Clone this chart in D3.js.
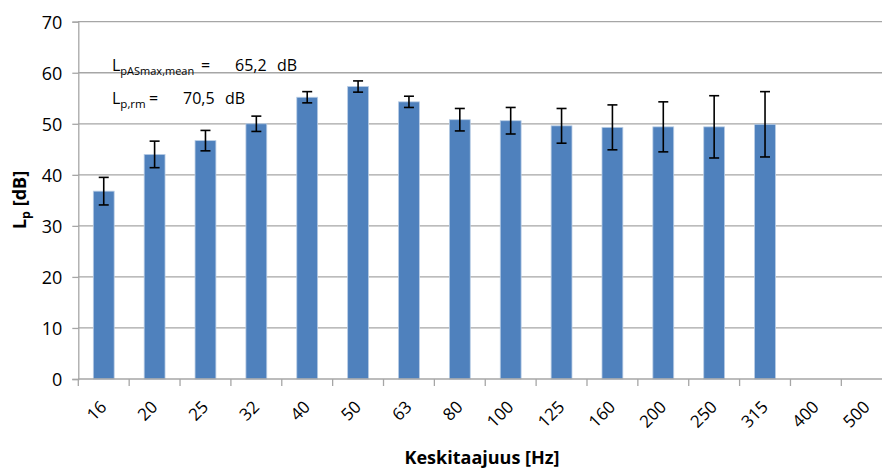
<!DOCTYPE html>
<html><head><meta charset="utf-8">
<script src="https://cdn.jsdelivr.net/npm/d3@7/dist/d3.min.js"></script>
<style>body{margin:0;background:#fff}svg{display:block}text{font-family:"Open Sans",Lato,sans-serif}</style>
</head><body><svg id="c" width="882" height="470"></svg>
<script>
const categories = ["16","20","25","32","40","50","63","80","100","125","160","200","250","315","400","500"];
const values = [36.8,44.0,46.7,50.0,55.2,57.3,54.3,50.8,50.6,49.6,49.3,49.4,49.4,49.9,null,null];
const errors = [2.7,2.6,2.0,1.5,1.1,1.1,1.1,2.2,2.6,3.4,4.4,4.9,6.1,6.4,null,null];
const yTicks = [0,10,20,30,40,50,60,70];

const svg = d3.select("#c");
const FONT = '"Open Sans",Lato,sans-serif';
const x = d3.scaleBand().domain(categories).range([78.3, 892.2]).paddingInner(0.59).paddingOuter(0.295);
const xc = d3.scaleBand().domain(categories).range([78.3, 892.2]);
const y = d3.scaleLinear().domain([0,70]).range([379, 21.7]);

// gridlines
svg.append("g").selectAll("line").data(yTicks.filter(d=>d>0)).join("line")
  .attr("x1",78).attr("x2",892).attr("y1",d=>y(d)).attr("y2",d=>y(d))
  .attr("stroke","#a6a6a6").attr("stroke-width",1.3);

// y axis
const ya = svg.append("g").attr("transform","translate(78.3,0)")
  .call(d3.axisLeft(y).tickValues(yTicks).tickSize(6).tickPadding(10));
ya.select(".domain").attr("stroke","#a6a6a6").attr("stroke-width",1.3);
ya.selectAll(".tick line").attr("stroke","#a6a6a6").attr("stroke-width",1.3);
ya.selectAll(".tick text").attr("font-size",18).attr("fill","#000").attr("font-family",FONT).attr("dy","0.36em");

// bars
const dat = categories.map((c,i)=>({c,v:values[i],e:errors[i]})).filter(d=>d.v!=null);
svg.append("g").selectAll("rect").data(dat).join("rect")
  .attr("x",d=>x(d.c)).attr("width",x.bandwidth())
  .attr("y",d=>y(d.v)).attr("height",d=>y(0)-y(d.v))
  .attr("fill","#4f81bd").attr("stroke","#b9cde5").attr("stroke-width",0.8);

// x axis
const xa = svg.append("g").attr("transform","translate(0,379)");
xa.append("line").attr("x1",78).attr("x2",892).attr("stroke","#a6a6a6").attr("stroke-width",1.3);
const bounds = categories.map(c=>xc(c));
xa.selectAll("line.t").data(bounds).join("line").attr("class","t")
  .attr("x1",d=>d).attr("x2",d=>d).attr("y1",0).attr("y2",7)
  .attr("stroke","#a6a6a6").attr("stroke-width",1.3);
xa.selectAll("text").data(categories).join("text")
  .attr("transform",d=>`translate(${xc(d)+xc.bandwidth()/2+4},${29}) rotate(-45)`)
  .attr("text-anchor","end").attr("font-size",17).attr("fill","#000").text(d=>d);

// error bars
const eg = svg.append("g").attr("stroke","#000").attr("stroke-width",1.6);
dat.forEach(d=>{
  const cx = x(d.c)+x.bandwidth()/2;
  eg.append("line").attr("x1",cx).attr("x2",cx).attr("y1",y(d.v+d.e)).attr("y2",y(d.v-d.e));
  [d.v+d.e,d.v-d.e].forEach(v=>eg.append("line").attr("x1",cx-5).attr("x2",cx+5).attr("y1",y(v)).attr("y2",y(v)));
});

// annotations
const a1 = svg.append("text").attr("x",112).attr("y",71).attr("font-size",16);
a1.append("tspan").text("L");
a1.append("tspan").attr("dy",4).attr("font-size",11).text("pASmax,mean");
svg.append("text").attr("x",201).attr("y",71).attr("font-size",16).text("=");
svg.append("text").attr("x",235).attr("y",71).attr("font-size",16).text("65,2");
svg.append("text").attr("x",277).attr("y",71).attr("font-size",16).text("dB");
const a2 = svg.append("text").attr("x",112).attr("y",104).attr("font-size",16);
a2.append("tspan").text("L");
a2.append("tspan").attr("dy",4).attr("font-size",11.5).text("p,rm");
svg.append("text").attr("x",149).attr("y",104).attr("font-size",16).text("=");
svg.append("text").attr("x",183).attr("y",104).attr("font-size",16).text("70,5");
svg.append("text").attr("x",225).attr("y",104).attr("font-size",16).text("dB");

// axis titles
svg.append("text").attr("x",482).attr("y",464).attr("text-anchor","middle")
  .attr("font-size",18).attr("font-weight","bold").text("Keskitaajuus [Hz]");
const yl = svg.append("text").attr("transform","translate(26,200) rotate(-90)")
  .attr("text-anchor","middle").attr("font-size",18).attr("font-weight","bold");
yl.append("tspan").text("L");
yl.append("tspan").attr("dy",4).attr("font-size",12.5).text("p");
yl.append("tspan").attr("dy",-4).text(" [dB]");
</script></body></html>
